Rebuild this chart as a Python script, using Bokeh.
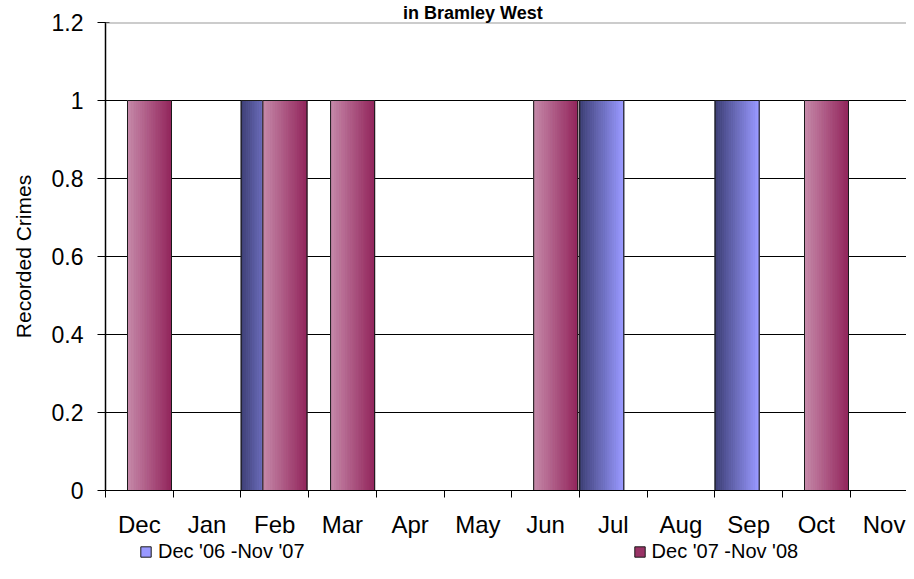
from bokeh.plotting import figure
from bokeh.layouts import column
from bokeh.models import (Range1d, FixedTicker, CustomJSTickFormatter, Legend,
                          LegendItem, Span, ColumnDataSource)
from bokeh.embed import file_html
from bokeh.resources import INLINE

# ---------------- data ----------------
MONTHS = ["Dec", "Jan", "Feb", "Mar", "Apr", "May", "Jun", "Jul", "Aug", "Sep", "Oct", "Nov"]
SERIES_1_NAME = "Dec '06 -Nov '07"
SERIES_1 = [0, 0, 1, 0, 0, 0, 0, 1, 0, 1, 0, 0]
SERIES_2_NAME = "Dec '07 -Nov '08"
SERIES_2 = [1, 0, 1, 1, 0, 0, 1, 0, 0, 0, 1, 0]
Y_TICKS = [0, 0.2, 0.4, 0.6, 0.8, 1.0, 1.2]
TITLE = "in Bramley West"
Y_TITLE = "Recorded Crimes"

# ---------------- layout / style ----------------
W, H_MAIN, H_LEG = 906, 540, 23
LEFT, TOP, BOTTOM = 105, 21, 50
CAT_PX = 67.7
X_END = (W - LEFT) / CAT_PX
BAR_W = 0.65
OFF_1, OFF_2 = -0.17, 0.15
FONT = "Liberation Sans"
TITLE_PX = 18
TITLE_CENTER = 472.5

BLUE_BASE, BLUE_L, BLUE_R = "#9999ff", (62, 64, 118), (153, 153, 255)
MAR_BASE, MAR_L, MAR_R = "#993366", (198, 138, 170), (148, 40, 94)

p = figure(width=W, height=H_MAIN, output_backend="svg", toolbar_location=None,
           x_range=Range1d(0, X_END), y_range=Range1d(Y_TICKS[0], Y_TICKS[-1]),
           min_border_left=LEFT, min_border_right=0, min_border_top=TOP,
           min_border_bottom=BOTTOM, background_fill_color="white",
           border_fill_color="white")
p.outline_line_color = None
p.xgrid.visible = False
p.ygrid.ticker = FixedTicker(ticks=Y_TICKS[:-1])
p.ygrid.grid_line_color = "black"
p.ygrid.grid_line_width = 1

# top edge of the plot area
p.add_layout(Span(location=Y_TICKS[-1], dimension="width", line_color="#9a9a9a", line_width=2))

# title (second line of the original heading)
p.title.text = TITLE
p.title.text_font = FONT
p.title.text_font_size = "%dpx" % TITLE_PX
p.title.text_font_style = "bold"
p.title.text_color = "black"
p.title.align = "left"
p.title.standoff = 0
p.title.offset = TITLE_CENTER - LEFT - 7.78 * TITLE_PX / 2


def hexcol(c):
    return "#%02x%02x%02x" % tuple(int(round(v)) for v in c)


def gradient_bars(values, offset, base, cl, cr, n=24):
    xs = [i + 0.5 + offset for i in range(len(values))]
    base_src = ColumnDataSource(dict(x=xs, top=values))
    p.vbar(x="x", width=BAR_W, top="top", bottom=0, source=base_src,
           fill_color=base, line_color="#1a1a1a", line_width=1)
    L, R, T, C = [], [], [], []
    step = BAR_W / n
    for x, v in zip(xs, values):
        if v <= 0:
            continue
        left0 = x - BAR_W / 2
        for k in range(n):
            t = k / (n - 1)
            col = tuple(a + (b - a) * t for a, b in zip(cl, cr))
            L.append(left0 + k * step)
            R.append(left0 + (k + 1) * step)
            T.append(v)
            C.append(hexcol(col))
    p.quad(left="l", right="r", top="t", bottom=0,
           source=ColumnDataSource(dict(l=L, r=R, t=T, c=C)),
           fill_color="c", line_color="c", line_width=0.8)
    p.vbar(x="x", width=BAR_W, top="top", bottom=0, source=base_src,
           fill_color=None, line_color="#1a1a1a", line_width=1)
    return xs


xs1 = gradient_bars(SERIES_1, OFF_1, BLUE_BASE, BLUE_L, BLUE_R)
xs2 = gradient_bars(SERIES_2, OFF_2, MAR_BASE, MAR_L, MAR_R)

# ---------------- axes ----------------
xa = p.xaxis[0]
xa.ticker = FixedTicker(ticks=[i + 0.5 for i in range(len(MONTHS))],
                        minor_ticks=list(range(len(MONTHS) + 1)))
xa.formatter = CustomJSTickFormatter(args=dict(months=MONTHS),
                                     code="return months[Math.round(tick - 0.5)] || '';")
xa.major_tick_line_color = None
xa.major_tick_out = 0
xa.major_tick_in = 0
xa.minor_tick_line_color = "black"
xa.minor_tick_out = 7
xa.minor_tick_in = 0
xa.axis_line_color = "black"
xa.axis_line_width = 1
xa.major_label_text_font = FONT
xa.major_label_text_font_size = "24px"
xa.major_label_text_color = "black"
xa.major_label_standoff = 13

ya = p.yaxis[0]
ya.ticker = FixedTicker(ticks=Y_TICKS)
ya.formatter = CustomJSTickFormatter(code="return String(Math.round(tick * 10) / 10);")
ya.major_tick_out = 8
ya.major_tick_in = 4
ya.major_tick_line_color = "black"
ya.minor_tick_line_color = None
ya.axis_line_color = "black"
ya.axis_line_width = 1.5
ya.major_label_text_font = FONT
ya.major_label_text_font_size = "23px"
ya.major_label_text_color = "black"
ya.major_label_standoff = 14
ya.axis_label = Y_TITLE
ya.axis_label_text_font = FONT
ya.axis_label_text_font_size = "21px"
ya.axis_label_text_font_style = "normal"
ya.axis_label_text_color = "black"
ya.axis_label_standoff = 14

# ---------------- legend strip ----------------
lf = figure(width=W, height=H_LEG, output_backend="svg", toolbar_location=None,
            x_range=Range1d(0, X_END), y_range=Range1d(0, 1),
            x_axis_location=None, y_axis_location=None,
            min_border=0, background_fill_color="white", border_fill_color="white")
lf.outline_line_color = None
lf.grid.visible = False
k1 = lf.vbar(x=xs1, top=SERIES_1, width=BAR_W, fill_color=BLUE_BASE,
             line_color="#1a1a1a", line_width=1, visible=False)
k2 = lf.vbar(x=xs2, top=SERIES_2, width=BAR_W, fill_color=MAR_BASE,
             line_color="#1a1a1a", line_width=1, visible=False)
lg = Legend(items=[LegendItem(label=SERIES_1_NAME, renderers=[k1]),
                   LegendItem(label=SERIES_2_NAME, renderers=[k2])],
            location=(34, 0), orientation="horizontal", padding=0, margin=0,
            spacing=328, border_line_color=None, background_fill_alpha=0,
            glyph_width=13, glyph_height=13, label_standoff=6,
            label_text_font=FONT, label_text_font_size="20px",
            label_text_color="black")
lf.add_layout(lg)

layout = column(p, lf, spacing=0)
open("out.html", "w").write(file_html(layout, INLINE))
